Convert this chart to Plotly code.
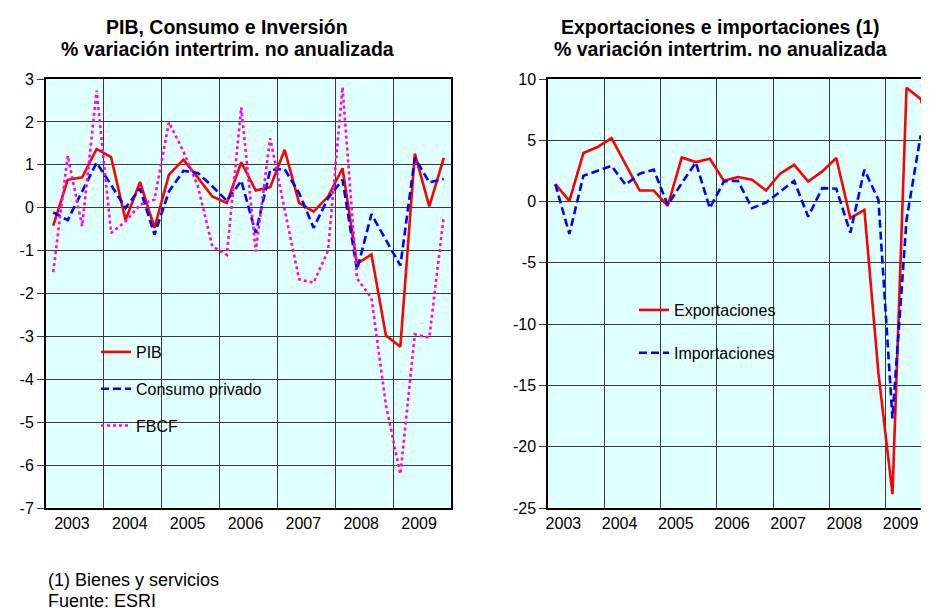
import plotly.graph_objects as go

# the page body has an 8px default margin, so the figure is offset by 8px
OFF = 8
W, H = 929 - OFF, 612 - OFF

years = ["2003", "2004", "2005", "2006", "2007", "2008", "2009"]
quarters = [f"{y}T{q}" for y in years for q in range(1, 5)]

pib = [-0.42, 0.65, 0.71, 1.37,
       1.18, -0.29, 0.60, -0.47,
       0.77, 1.12, 0.70, 0.26,
       0.11, 1.06, 0.40, 0.48,
       1.35, 0.11, -0.09, 0.26,
       0.92, -1.31, -1.09, -2.98,
       -3.24, 1.26, 0.03, 1.16]
consumo = [-0.11, -0.29, 0.38, 1.05,
           0.53, -0.01, 0.45, -0.63,
           0.38, 0.86, 0.81, 0.50,
           0.16, 0.63, -0.59, 0.88,
           0.90, 0.34, -0.47, 0.22,
           0.65, -1.45, -0.15, -0.74,
           -1.35, 1.16, 0.59, 0.67]
fbcf = [-1.50, 1.21, -0.43, 2.73,
        -0.59, -0.32, 0.07, 0.19,
        1.99, 1.31, 0.50, -0.90,
        -1.10, 2.34, -1.02, 1.62,
        -0.05, -1.67, -1.75, -1.00,
        2.81, -1.65, -2.10, -4.60,
        -6.21, -2.95, -3.03, -0.20]
export = [1.42, 0.06, 3.96, 4.45,
          5.18, 3.00, 0.90, 0.90,
          -0.35, 3.60, 3.22, 3.49,
          1.69, 2.00, 1.78, 0.90,
          2.27, 3.00, 1.64, 2.46,
          3.55, -1.36, -0.68, -14.00,
          -23.87, 9.28, 8.38, 4.67]
imports = [1.42, -2.64, 2.10, 2.54,
           2.92, 1.37, 2.27, 2.60,
           -0.27, 1.50, 3.19, -0.54,
           1.64, 1.70, -0.54, -0.08,
           0.82, 1.69, -1.23, 1.10,
           1.05, -2.54, 2.60, 0.14,
           -17.70, -1.50, 5.38, 0.84]

left_ticks = [3, 2, 1, 0, -1, -2, -3, -4, -5, -6, -7]
right_ticks = [10, 5, 0, -5, -10, -15, -20, -25]

xi = list(range(len(quarters)))
year_centers = [4 * k + 1.5 for k in range(len(years))]

FONT = "Arial, Liberation Sans, sans-serif"
RED, BLUE, MAG = "#FF0000", "#0000FF", "#FF00FF"
GRID = "#3a3a3a"

def px_x(p):
    return (p - OFF) / W

def px_y(p):
    return 1 - (p - OFF) / H

fig = go.Figure()
fig.add_trace(go.Scatter(x=xi, y=pib, name="PIB", mode="lines",
                         line=dict(color=RED, width=2.6), legendgroup="a",
                         xaxis="x", yaxis="y", legend="legend"))
fig.add_trace(go.Scatter(x=xi, y=consumo, name="Consumo privado", mode="lines",
                         line=dict(color=BLUE, width=2.6, dash="8px,4px"), legendgroup="b",
                         xaxis="x", yaxis="y", legend="legend"))
fig.add_trace(go.Scatter(x=xi, y=fbcf, name="FBCF", mode="lines",
                         line=dict(color=MAG, width=2.6, dash="3px,3px"), legendgroup="c",
                         xaxis="x", yaxis="y", legend="legend"))
fig.add_trace(go.Scatter(x=xi, y=export, name="Exportaciones", mode="lines",
                         line=dict(color=RED, width=2.6), legendgroup="d",
                         xaxis="x2", yaxis="y2", legend="legend2"))
fig.add_trace(go.Scatter(x=xi, y=imports, name="Importaciones", mode="lines",
                         line=dict(color=BLUE, width=2.6, dash="8px,4px"), legendgroup="e",
                         xaxis="x2", yaxis="y2", legend="legend2"))

xcommon = dict(tickvals=year_centers, ticktext=years, showgrid=False, ticks="",
               tickfont=dict(size=16, color="black", family=FONT), automargin=False,
               ticklabeloverflow="allow",
               showline=True, linecolor="black", linewidth=2, zeroline=False,
               minor=dict(tickmode="linear", tick0=-0.5, dtick=4, showgrid=True,
                          gridcolor=GRID, gridwidth=1.3, ticks=""))
ycommon = dict(showgrid=True, gridcolor=GRID, gridwidth=1.3, zeroline=False,
               ticks="outside", ticklen=7, tickcolor=GRID, tickwidth=1.3,
               tickfont=dict(size=16, color="black", family=FONT), automargin=False,
               showline=True, linecolor="black", linewidth=2)

ydom = [px_y(508), px_y(79)]

fig.update_layout(
    width=W, height=H, margin=dict(l=0, r=0, t=0, b=0, autoexpand=False),
    paper_bgcolor="white", plot_bgcolor="#E0FFFF",
    font=dict(family=FONT, color="black"),
    xaxis=dict(domain=[px_x(46), px_x(451)], range=[-0.5, 27.5], anchor="y",
               mirror=True, ticklabelshift=-3, **xcommon),
    yaxis=dict(domain=ydom, range=[-7, 3], tickvals=left_ticks,
               ticktext=[str(v) for v in left_ticks], anchor="x",
               mirror=True, **ycommon),
    xaxis2=dict(domain=[px_x(548.3), 1.0], range=[-0.5, 26.6], anchor="y2",
                mirror=True, ticklabelshift=-13, **xcommon),
    yaxis2=dict(domain=ydom, range=[-25, 10], tickvals=right_ticks,
                ticktext=[str(v) for v in right_ticks], anchor="x2",
                mirror=False, **ycommon),
    legend=dict(x=px_x(96), y=px_y(335), xanchor="left", yanchor="top",
                bgcolor="rgba(0,0,0,0)", font=dict(size=16, family=FONT),
                tracegroupgap=13, itemwidth=30),
    legend2=dict(x=px_x(634), y=px_y(293), xanchor="left", yanchor="top",
                 bgcolor="rgba(0,0,0,0)", font=dict(size=16, family=FONT),
                 tracegroupgap=19, itemwidth=30),
    showlegend=True,
)

title_font = dict(size=19.5, family=FONT, color="black")
ann = [
    dict(text="<b>PIB, Consumo e Inversión</b>", x=px_x(227), y=px_y(27.5)),
    dict(text="<b>% variación intertrim. no anualizada</b>", x=px_x(227), y=px_y(49)),
    dict(text="<b>Exportaciones e importaciones (1)</b>", x=px_x(720), y=px_y(27.5)),
    dict(text="<b>% variación intertrim. no anualizada</b>", x=px_x(720), y=px_y(49)),
]
for a in ann:
    fig.add_annotation(xref="paper", yref="paper", xanchor="center", yanchor="middle",
                       showarrow=False, font=title_font, **a)

notes = ["(1) Bienes y servicios", "Fuente: ESRI"]
for k, t in enumerate(notes):
    fig.add_annotation(xref="paper", yref="paper", x=px_x(46), y=px_y(580 + 21 * k),
                       xanchor="left", yanchor="middle", showarrow=False, text=t,
                       font=dict(size=18, family=FONT, color="black"))

fig.write_html("out.html")
